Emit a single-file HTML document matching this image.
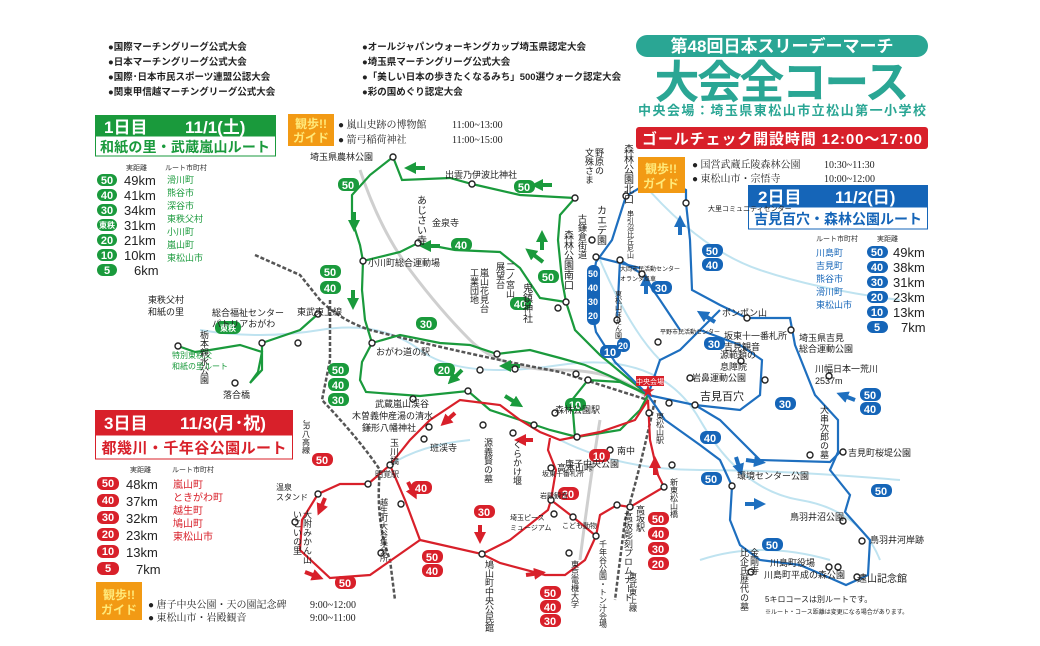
<!DOCTYPE html>
<html><head><meta charset="utf-8"><style>
body{margin:0;background:#fff}
svg{display:block;font-family:"Liberation Sans","Noto Sans CJK JP",sans-serif}
.k{font-size:9px;fill:#222}
.s{font-size:7px;fill:#333}
.g{fill:#1a9a3c}.b{fill:#1565b8}.r{fill:#d8202a}
</style></head><body>
<svg width="1040" height="646" viewBox="0 0 1040 646" xmlns="http://www.w3.org/2000/svg">
<defs>
<marker id="ag" viewBox="0 0 10 10" refX="5" refY="5" markerWidth="3" markerHeight="3" orient="auto"><path d="M0 0L10 5L0 10z" fill="#1a9a3c"/></marker>
<marker id="ab" viewBox="0 0 10 10" refX="5" refY="5" markerWidth="3" markerHeight="3" orient="auto"><path d="M0 0L10 5L0 10z" fill="#1e6fbf"/></marker>
<marker id="ar" viewBox="0 0 10 10" refX="5" refY="5" markerWidth="3" markerHeight="3" orient="auto"><path d="M0 0L10 5L0 10z" fill="#d8202a"/></marker>
</defs>
<rect width="1040" height="646" fill="#fff"/>
<!-- rivers -->
<g fill="none" stroke="#bfe3f0" stroke-width="2">
<path d="M200 330 Q260 340 320 330 T420 350 T560 365 T700 420 T800 500 T880 560"/>
<path d="M640 180 Q700 250 760 270 T900 300"/>
<path d="M600 260 Q630 330 660 360"/>
<path d="M560 440 Q620 470 700 470 T900 480"/>
<path d="M390 465 Q420 445 470 440"/>
<path d="M700 560 Q760 540 830 560"/>
</g>
<g fill="none" stroke="#cfcfcf" stroke-width="3">
<path d="M360 170 Q380 230 410 270 T470 340 T560 370 T650 400"/>
<path d="M600 420 Q590 480 580 560"/>
</g>
<g fill="none" stroke="#555" stroke-width="2.5" stroke-dasharray="4 2">
<path d="M255 255 L300 275 L320 300 Q340 320 370 330 Q470 355 560 372 L648 400"/>
<path d="M330 300 L330 360 L322 400 Q360 440 380 470 Q375 520 390 560 L395 600"/>
<path d="M655 400 Q640 470 625 520 L615 600"/>
</g>
<g fill="none" stroke="#1a9a3c" stroke-width="2.2">
<path d="M393 157 L402 180 L450 178 L472 184 L520 195 L575 198 L560 215 L558 240 L562 280 L566 302 L540 298 L520 268 L500 252 L455 250 L418 243 L400 252 L363 261 L362 290 L365 320 L372 343"/>
<path d="M393 157 L370 175 L352 195 L352 220 L360 245 L363 261"/>
<path d="M566 302 L575 330 L600 355 L648 395"/>
<path d="M372 343 L400 335 L440 343 L470 345 L497 354 L530 350 L560 358 L585 365 L610 376 L648 395"/>
<path d="M372 343 L362 362 L360 380 L366 392 L420 396 L468 391 L490 410 L520 420 L550 430 L577 437 L620 430 L640 410 L648 395"/>
<path d="M648 395 L620 382 L588 380 L572 400 L575 437"/>
<path d="M178 346 L195 352 L210 350 L240 345 L262 352 L258 372 L250 383 L262 370 L262 343 L300 330 L318 314"/>
</g>
<g fill="none" stroke="#1e6fbf" stroke-width="2.2">
<path d="M648 395 L615 362 L596 332 L590 300 L596 262 L612 240 L626 196 L660 176 L686 190 L686 203 L690 240 L692 290 L720 305 L747 318 L790 318 L795 345 L815 395 L838 420 L838 452 L830 470 L850 495 L845 512 L870 540 L868 575 L846 585 L830 578 L800 565 L760 560 L740 545 L730 520 L732 486 L720 460 L700 445 L665 420 L648 395"/>
<path d="M648 395 L660 360 L680 350 L700 330 L720 310"/>
<path d="M648 395 L695 405 L720 420 L760 460 L830 462 L840 452"/>
<path d="M695 405 L740 410 L760 395 L762 360 L740 345 L700 330"/>
<path d="M617 320 L620 260 L642 274 L660 300 L680 330"/>
<path d="M596 257 L640 268"/>
</g>
<g fill="none" stroke="#d8202a" stroke-width="2.2">
<path d="M648 400 L650 440 L658 475 L664 487 L630 507 L617 505 L600 515 L596 536 L585 560 L565 575 L545 575 L500 563 L482 554 L420 540 L405 500 L390 465"/>
<path d="M648 400 L635 420 L600 432 L560 440 L540 432 L520 420 L500 405 L460 400 L430 420 L410 440 L390 465 L368 484 L340 484 L318 494 L302 520 L300 550 L330 578 L370 575 L420 540"/>
<path d="M482 554 L510 540 L548 510 L551 500 L556 470 L548 450 L550 438"/>
<path d="M551 500 L573 517 L596 536"/>
</g>
<!-- direction arrows -->
<g stroke-width="4" fill="none">
<path d="M425 168 L410 168" stroke="#1a9a3c" marker-end="url(#ag)"/>
<path d="M552 185 L537 185" stroke="#1a9a3c" marker-end="url(#ag)"/>
<path d="M354 212 L354 226" stroke="#1a9a3c" marker-end="url(#ag)"/>
<path d="M440 246 L425 246" stroke="#1a9a3c" marker-end="url(#ag)"/>
<path d="M353 290 L353 304" stroke="#1a9a3c" marker-end="url(#ag)"/>
<path d="M543 262 L530 252" stroke="#1a9a3c" marker-end="url(#ag)"/>
<path d="M542 250 L542 236" stroke="#1a9a3c" marker-end="url(#ag)"/>
<path d="M520 366 L505 366" stroke="#1a9a3c" marker-end="url(#ag)"/>
<path d="M462 370 L452 380" stroke="#1a9a3c" marker-end="url(#ag)"/>
<path d="M505 396 L518 404" stroke="#1a9a3c" marker-end="url(#ag)"/>
<path d="M680 235 L680 221" stroke="#1e6fbf" marker-end="url(#ab)"/>
<path d="M646 294 L646 280" stroke="#1e6fbf" marker-end="url(#ab)"/>
<path d="M715 322 L702 314" stroke="#1e6fbf" marker-end="url(#ab)"/>
<path d="M855 400 L842 395" stroke="#1e6fbf" marker-end="url(#ab)"/>
<path d="M746 460 L760 462" stroke="#1e6fbf" marker-end="url(#ab)"/>
<path d="M745 504 L760 504" stroke="#1e6fbf" marker-end="url(#ab)"/>
<path d="M736 457 L740 470" stroke="#1e6fbf" marker-end="url(#ab)"/>
<path d="M455 413 L445 422" stroke="#d8202a" marker-end="url(#ar)"/>
<path d="M533 440 L520 440" stroke="#d8202a" marker-end="url(#ar)"/>
<path d="M408 482 L414 494" stroke="#d8202a" marker-end="url(#ar)"/>
<path d="M480 525 L480 538" stroke="#d8202a" marker-end="url(#ar)"/>
<path d="M305 572 L318 577" stroke="#d8202a" marker-end="url(#ar)"/>
<path d="M325 498 L320 510" stroke="#d8202a" marker-end="url(#ar)"/>
<path d="M655 475 L655 462" stroke="#d8202a" marker-end="url(#ar)"/>
<path d="M526 575 L540 573" stroke="#d8202a" marker-end="url(#ar)"/>
</g>
<g fill="#fff" stroke="#222" stroke-width="1.4">
<circle cx="393" cy="157" r="3"/><circle cx="472" cy="184" r="3"/><circle cx="575" cy="198" r="3"/><circle cx="418" cy="243" r="3"/><circle cx="363" cy="261" r="3"/><circle cx="372" cy="343" r="3"/><circle cx="318" cy="314" r="3"/><circle cx="262" cy="343" r="3"/><circle cx="178" cy="346" r="3"/><circle cx="235" cy="383" r="3"/><circle cx="298" cy="343" r="3"/><circle cx="468" cy="391" r="3"/><circle cx="497" cy="354" r="3"/><circle cx="515" cy="369" r="3"/><circle cx="480" cy="370" r="3"/><circle cx="413" cy="399" r="3"/><circle cx="566" cy="302" r="3"/><circle cx="558" cy="308" r="3"/><circle cx="576" cy="374" r="3"/><circle cx="588" cy="380" r="3"/><circle cx="555" cy="413" r="3"/><circle cx="534" cy="425" r="3"/><circle cx="577" cy="437" r="3"/>
<circle cx="626" cy="196" r="3"/><circle cx="592" cy="240" r="3"/><circle cx="596" cy="257" r="3"/><circle cx="620" cy="260" r="3"/><circle cx="642" cy="274" r="3"/><circle cx="617" cy="320" r="3"/><circle cx="686" cy="203" r="3"/><circle cx="747" cy="318" r="3"/><circle cx="658" cy="342" r="3"/><circle cx="791" cy="330" r="3"/><circle cx="741" cy="361" r="3"/><circle cx="765" cy="380" r="3"/><circle cx="690" cy="378" r="3"/><circle cx="695" cy="405" r="3"/><circle cx="669" cy="403" r="3"/><circle cx="829" cy="376" r="3"/><circle cx="810" cy="455" r="3"/><circle cx="843" cy="452" r="3"/><circle cx="732" cy="486" r="3"/><circle cx="843" cy="521" r="3"/><circle cx="862" cy="541" r="3"/><circle cx="829" cy="567" r="3"/><circle cx="838" cy="567" r="3"/><circle cx="857" cy="577" r="3"/><circle cx="751" cy="572" r="3"/><circle cx="672" cy="465" r="3"/>
<circle cx="649" cy="413" r="3"/><circle cx="390" cy="465" r="3"/><circle cx="368" cy="484" r="3"/><circle cx="318" cy="494" r="3"/><circle cx="295" cy="522" r="3"/><circle cx="381" cy="553" r="3"/><circle cx="401" cy="504" r="3"/><circle cx="482" cy="554" r="3"/><circle cx="429" cy="427" r="3"/><circle cx="424" cy="439" r="3"/><circle cx="483" cy="425" r="3"/><circle cx="513" cy="433" r="3"/><circle cx="610" cy="450" r="3"/><circle cx="551" cy="468" r="3"/><circle cx="551" cy="500" r="3"/><circle cx="554" cy="514" r="3"/><circle cx="573" cy="517" r="3"/><circle cx="596" cy="536" r="3"/><circle cx="569" cy="553" r="3"/><circle cx="617" cy="505" r="3"/><circle cx="630" cy="507" r="3"/><circle cx="664" cy="487" r="3"/>
</g>
<text x="648" y="396" font-size="14" fill="#d8202a" text-anchor="middle">★</text>
<rect x="636" y="376" width="28" height="10" fill="#d8202a"/><text x="650" y="384" font-size="7" fill="#fff" text-anchor="middle">中央会場</text>
<g font-size="9.5" font-weight="bold" fill="#222">
<text x="108" y="50">●国際マーチングリーグ公式大会</text>
<text x="108" y="65">●日本マーチングリーグ公式大会</text>
<text x="108" y="80">●国際･日本市民スポーツ連盟公認大会</text>
<text x="108" y="95">●関東甲信越マーチングリーグ公式大会</text>
<text x="362" y="50">●オールジャパンウォーキングカップ埼玉県認定大会</text>
<text x="362" y="65">●埼玉県マーチングリーグ公式大会</text>
<text x="362" y="80">●「美しい日本の歩きたくなるみち」500選ウォーク認定大会</text>
<text x="362" y="95">●彩の国めぐり認定大会</text>
</g>
<rect x="636" y="35" width="292" height="22" rx="11" fill="#2aa694"/>
<text x="782" y="52" font-size="17" font-weight="bold" fill="#fff" text-anchor="middle">第48回日本スリーデーマーチ</text>
<text x="782" y="98" font-size="45" font-weight="bold" fill="#2aa694" text-anchor="middle" textLength="255">大会全コース</text>
<text x="782" y="115" font-size="13" font-weight="bold" fill="#2aa694" text-anchor="middle" textLength="288">中央会場：埼玉県東松山市立松山第一小学校</text>
<rect x="636" y="127" width="292" height="22" rx="3" fill="#d8202a"/>
<text x="782" y="144" font-size="15" font-weight="bold" fill="#fff" text-anchor="middle" textLength="280">ゴールチェック開設時間 12:00～17:00</text>
<g font-weight="bold" fill="#fff" text-anchor="middle">
<rect x="638" y="157" width="47" height="36" fill="#f29a14"/><text x="661" y="173" font-size="12" fill="#ffe97a">観歩!!</text><text x="661" y="188" font-size="12" fill="#ffe97a">ガイド</text>
<rect x="288" y="114" width="46" height="32" fill="#f29a14"/><text x="311" y="128" font-size="12" fill="#ffe97a">観歩!!</text><text x="311" y="142" font-size="12" fill="#ffe97a">ガイド</text>
<rect x="96" y="582" width="46" height="38" fill="#f29a14"/><text x="119" y="599" font-size="12" fill="#ffe97a">観歩!!</text><text x="119" y="614" font-size="12" fill="#ffe97a">ガイド</text>
</g>
<g font-size="10" fill="#222" font-family="Liberation Serif,Noto Serif CJK SC,serif">
<text x="692" y="168">●  国営武蔵丘陵森林公園</text><text x="824" y="168">10:30~11:30</text>
<text x="692" y="182">●  東松山市・宗悟寺</text><text x="824" y="182">10:00~12:00</text>
<text x="338" y="128">●  嵐山史跡の博物館</text><text x="452" y="128">11:00~13:00</text>
<text x="338" y="143">●  箭弓稲荷神社</text><text x="452" y="143">11:00~15:00</text>
<text x="148" y="608">●  唐子中央公園・天の園記念碑</text><text x="310" y="608">9:00~12:00</text>
<text x="148" y="621">●  東松山市・岩殿観音</text><text x="310" y="621">9:00~11:00</text>
</g>
<rect x="95" y="115" width="181" height="21" fill="#1a9a3c"/>
<rect x="95.5" y="136" width="180" height="20" fill="#fff" stroke="#1a9a3c"/>
<text x="104" y="133" font-size="17" font-weight="bold" fill="#fff">1日目</text><text x="185" y="133" font-size="17" font-weight="bold" fill="#fff">11/1(土)</text>
<text x="185" y="152" font-size="14" font-weight="bold" class="g" text-anchor="middle" textLength="170">和紙の里・武蔵嵐山ルート</text>
<rect x="748" y="185" width="180" height="22" fill="#1565b8"/>
<rect x="748.5" y="207" width="179" height="22" fill="#fff" stroke="#1565b8"/>
<text x="758" y="203" font-size="17" font-weight="bold" fill="#fff">2日目</text><text x="835" y="203" font-size="17" font-weight="bold" fill="#fff">11/2(日)</text>
<text x="838" y="224" font-size="14" font-weight="bold" class="b" text-anchor="middle" textLength="168">吉見百穴・森林公園ルート</text>
<rect x="95" y="410" width="198" height="25" fill="#d8202a"/>
<rect x="95.5" y="435" width="197" height="24" fill="#fff" stroke="#d8202a"/>
<text x="104" y="429" font-size="17" font-weight="bold" fill="#fff">3日目</text><text x="180" y="429" font-size="17" font-weight="bold" fill="#fff">11/3(月･祝)</text>
<text x="194" y="453" font-size="15" font-weight="bold" class="r" text-anchor="middle" textLength="185">都幾川・千年谷公園ルート</text>
<text x="126" y="170" class="s">実距離</text><text x="165" y="170" class="s">ルート市町村</text>
<g font-size="11" font-weight="bold" fill="#fff" text-anchor="middle">
<rect x="97" y="174" width="20" height="12" rx="6" fill="#1a9a3c"/><text x="107" y="184">50</text>
<rect x="97" y="189" width="20" height="12" rx="6" fill="#1a9a3c"/><text x="107" y="199">40</text>
<rect x="97" y="204" width="20" height="12" rx="6" fill="#1a9a3c"/><text x="107" y="214">30</text>
<rect x="97" y="219" width="20" height="12" rx="6" fill="#1a9a3c"/><text x="107" y="228" font-size="8">東秩</text>
<rect x="97" y="234" width="20" height="12" rx="6" fill="#1a9a3c"/><text x="107" y="244">20</text>
<rect x="97" y="249" width="20" height="12" rx="6" fill="#1a9a3c"/><text x="107" y="259">10</text>
<rect x="97" y="264" width="20" height="12" rx="6" fill="#1a9a3c"/><text x="107" y="274">5</text>
</g>
<g font-size="13" fill="#222"><text x="124" y="185">49km</text><text x="124" y="200">41km</text><text x="124" y="215">34km</text><text x="124" y="230">31km</text><text x="124" y="245">21km</text><text x="124" y="260">10km</text><text x="134" y="275">6km</text></g>
<g font-size="9" class="g"><text x="167" y="183">滑川町</text><text x="167" y="196">熊谷市</text><text x="167" y="209">深谷市</text><text x="167" y="222">東秩父村</text><text x="167" y="235">小川町</text><text x="167" y="248">嵐山町</text><text x="167" y="261">東松山市</text></g>
<text x="816" y="241" class="s">ルート市町村</text><text x="877" y="241" class="s">実距離</text>
<g font-size="11" font-weight="bold" fill="#fff" text-anchor="middle">
<rect x="867" y="246" width="21" height="12" rx="6" fill="#1565b8"/><text x="877" y="256">50</text>
<rect x="867" y="261" width="21" height="12" rx="6" fill="#1565b8"/><text x="877" y="271">40</text>
<rect x="867" y="276" width="21" height="12" rx="6" fill="#1565b8"/><text x="877" y="286">30</text>
<rect x="867" y="291" width="21" height="12" rx="6" fill="#1565b8"/><text x="877" y="301">20</text>
<rect x="867" y="306" width="21" height="12" rx="6" fill="#1565b8"/><text x="877" y="316">10</text>
<rect x="867" y="321" width="21" height="12" rx="6" fill="#1565b8"/><text x="877" y="331">5</text>
</g>
<g font-size="13" fill="#222"><text x="893" y="257">49km</text><text x="893" y="272">38km</text><text x="893" y="287">31km</text><text x="893" y="302">23km</text><text x="893" y="317">13km</text><text x="901" y="332">7km</text></g>
<g font-size="9" class="b"><text x="816" y="256">川島町</text><text x="816" y="269">吉見町</text><text x="816" y="282">熊谷市</text><text x="816" y="295">滑川町</text><text x="816" y="308">東松山市</text></g>
<text x="130" y="472" class="s">実距離</text><text x="172" y="472" class="s">ルート市町村</text>
<g font-size="11" font-weight="bold" fill="#fff" text-anchor="middle">
<rect x="97" y="477" width="22" height="13" rx="6" fill="#d8202a"/><text x="108" y="487">50</text>
<rect x="97" y="494" width="22" height="13" rx="6" fill="#d8202a"/><text x="108" y="504">40</text>
<rect x="97" y="511" width="22" height="13" rx="6" fill="#d8202a"/><text x="108" y="521">30</text>
<rect x="97" y="528" width="22" height="13" rx="6" fill="#d8202a"/><text x="108" y="538">20</text>
<rect x="97" y="545" width="22" height="13" rx="6" fill="#d8202a"/><text x="108" y="555">10</text>
<rect x="97" y="562" width="22" height="13" rx="6" fill="#d8202a"/><text x="108" y="572">5</text>
</g>
<g font-size="13" fill="#222"><text x="126" y="489">48km</text><text x="126" y="506">37km</text><text x="126" y="523">32km</text><text x="126" y="540">23km</text><text x="126" y="557">13km</text><text x="136" y="574">7km</text></g>
<g font-size="10" class="r"><text x="173" y="488">嵐山町</text><text x="173" y="501">ときがわ町</text><text x="173" y="514">越生町</text><text x="173" y="527">鳩山町</text><text x="173" y="540">東松山市</text></g>
<g font-size="11" font-weight="bold" fill="#fff" text-anchor="middle">
<g fill="#1a9a3c"><rect x="338" y="178" width="21" height="13" rx="6"/><rect x="514" y="180" width="21" height="13" rx="6"/><rect x="451" y="238" width="21" height="13" rx="6"/><rect x="320" y="265" width="21" height="13" rx="6"/><rect x="320" y="281" width="21" height="13" rx="6"/><rect x="538" y="270" width="21" height="13" rx="6"/><rect x="510" y="297" width="21" height="13" rx="6"/><rect x="416" y="317" width="21" height="13" rx="6"/><rect x="434" y="363" width="21" height="13" rx="6"/><rect x="328" y="363" width="21" height="13" rx="6"/><rect x="328" y="378" width="21" height="13" rx="6"/><rect x="328" y="393" width="21" height="13" rx="6"/><rect x="565" y="398" width="21" height="13" rx="6"/><rect x="215" y="321" width="26" height="13" rx="6"/></g>
<g fill="#fff"><text x="348" y="189">50</text><text x="524" y="191">50</text><text x="461" y="249">40</text><text x="330" y="276">50</text><text x="330" y="292">40</text><text x="548" y="281">50</text><text x="520" y="308">40</text><text x="426" y="328">30</text><text x="444" y="374">20</text><text x="338" y="374">50</text><text x="338" y="389">40</text><text x="338" y="404">30</text><text x="575" y="409">10</text><text x="228" y="331" font-size="8">東秩</text></g>
<g fill="#1565b8"><rect x="702" y="244" width="21" height="13" rx="6"/><rect x="702" y="258" width="21" height="13" rx="6"/><rect x="651" y="281" width="21" height="13" rx="6"/><rect x="587" y="265" width="13" height="60" rx="6"/><rect x="617" y="338" width="13" height="14" rx="6"/><rect x="600" y="345" width="21" height="13" rx="6"/><rect x="704" y="337" width="21" height="13" rx="6"/><rect x="775" y="397" width="21" height="13" rx="6"/><rect x="860" y="388" width="21" height="13" rx="6"/><rect x="860" y="402" width="21" height="13" rx="6"/><rect x="700" y="431" width="21" height="13" rx="6"/><rect x="701" y="472" width="21" height="13" rx="6"/><rect x="871" y="484" width="21" height="13" rx="6"/><rect x="762" y="538" width="21" height="13" rx="6"/></g>
<g fill="#fff"><text x="712" y="255">50</text><text x="712" y="269">40</text><text x="661" y="292">30</text><text x="593" y="277" font-size="9">50</text><text x="593" y="291" font-size="9">40</text><text x="593" y="305" font-size="9">30</text><text x="593" y="319" font-size="9">20</text><text x="623" y="349" font-size="9">20</text><text x="610" y="356">10</text><text x="714" y="348">30</text><text x="785" y="408">30</text><text x="870" y="399">50</text><text x="870" y="413">40</text><text x="710" y="442">40</text><text x="711" y="483">50</text><text x="881" y="495">50</text><text x="772" y="549">50</text></g>
<g fill="#d8202a"><rect x="312" y="453" width="21" height="13" rx="6"/><rect x="411" y="481" width="21" height="13" rx="6"/><rect x="474" y="505" width="21" height="13" rx="6"/><rect x="558" y="487" width="21" height="13" rx="6"/><rect x="589" y="449" width="21" height="13" rx="6"/><rect x="422" y="550" width="21" height="13" rx="6"/><rect x="422" y="564" width="21" height="13" rx="6"/><rect x="335" y="576" width="21" height="13" rx="6"/><rect x="540" y="586" width="21" height="13" rx="6"/><rect x="540" y="600" width="21" height="13" rx="6"/><rect x="540" y="614" width="21" height="13" rx="6"/><rect x="648" y="512" width="21" height="13" rx="6"/><rect x="648" y="527" width="21" height="13" rx="6"/><rect x="648" y="542" width="21" height="13" rx="6"/><rect x="648" y="557" width="21" height="13" rx="6"/></g>
<g fill="#fff"><text x="322" y="464">50</text><text x="421" y="492">40</text><text x="484" y="516">30</text><text x="568" y="498">20</text><text x="599" y="460">10</text><text x="432" y="561">50</text><text x="432" y="575">40</text><text x="345" y="587">50</text><text x="550" y="597">50</text><text x="550" y="611">40</text><text x="550" y="625">30</text><text x="658" y="523">50</text><text x="658" y="538">40</text><text x="658" y="553">30</text><text x="658" y="568">20</text></g>
</g>
<g class="k">
<text x="310" y="160">埼玉県農林公園</text><text x="445" y="178">出雲乃伊波比神社</text>
<text x="432" y="226">金泉寺</text><text x="368" y="266">小川町総合運動場</text>
<text x="376" y="355">おがわ道の駅</text><text x="297" y="315">東武東上線</text>
<text x="148" y="303">東秩父村</text><text x="148" y="315">和紙の里</text>
<text x="212" y="316">総合福祉センター</text><text x="212" y="327">パトリアおがわ</text>
<text x="172" y="358" class="g" font-size="8">特別東秩父</text><text x="172" y="369" class="g" font-size="8">和紙の里ルート</text>
<text x="223" y="398">落合橋</text>
<text x="375" y="407">武蔵嵐山渓谷</text><text x="352" y="419">木曽義仲産湯の清水</text><text x="362" y="431">鎌形八幡神社</text>
<text x="430" y="451">班渓寺</text><text x="375" y="477" font-size="8">明覚駅</text>
<text x="276" y="490" font-size="8">温泉</text><text x="276" y="500" font-size="8">スタンド</text>
<text x="555" y="413">森林公園駅</text><text x="565" y="467">唐子中央公園</text><text x="617" y="454">南中</text>
<text x="557" y="471">高本山峠</text><text x="542" y="476" font-size="7">坂東十番札所</text><text x="540" y="498" font-size="7">岩殿観音</text>
<text x="510" y="520" font-size="7">埼玉ピース</text><text x="510" y="530" font-size="7">ミュージアム</text>
<text x="562" y="528" font-size="7">こども動物</text>
<text x="708" y="211" font-size="7">大里コミュニティセンター</text><text x="722" y="316">ポンポン山</text>
<text x="620" y="271" font-size="6">大岡市民活動センター</text><text x="620" y="281" font-size="6">オランダ風車</text>
<text x="660" y="334" font-size="6">平野市民活動センター</text>
<text x="724" y="339">坂東十一番札所</text><text x="724" y="350">吉見観音</text>
<text x="720" y="358">源範頼の</text><text x="720" y="370">息障院</text>
<text x="692" y="381">岩鼻運動公園</text><text x="700" y="400" font-size="11">吉見百穴</text>
<text x="799" y="341">埼玉県吉見</text><text x="799" y="352">総合運動公園</text>
<text x="815" y="372">川幅日本一荒川</text><text x="815" y="384">2537m</text>
<text x="848" y="456">吉見町桜堤公園</text><text x="737" y="479">環境センター公園</text>
<text x="790" y="520">鳥羽井沼公園</text><text x="870" y="543">鳥羽井河岸跡</text>
<text x="770" y="566">川島町役場</text><text x="764" y="578">川島町平成の森公園</text>
<text x="857" y="582" font-size="10">遠山記念館</text>
<text x="765" y="602" font-size="8">5キロコースは別ルートです。</text>
<text x="765" y="614" font-size="6">※ルート・コース距離は変更になる場合があります。</text>
</g>
<g class="k" writing-mode="tb" glyph-orientation-vertical="0">
<text x="599" y="148" font-size="9">野原の</text><text x="589" y="148" font-size="9">文殊さま</text>
<text x="627" y="144" font-size="10">森林公園北口</text>
<text x="600" y="205" font-size="10">カエデ園</text>
<text x="582" y="214" font-size="9">古鎌倉街道</text>
<text x="567" y="230" font-size="10">森林公園南口</text>
<text x="420" y="195" font-size="10">あじさい寺</text>
<text x="510" y="262" font-size="9">二ノ宮山</text><text x="500" y="262" font-size="9">展望台</text>
<text x="484" y="268" font-size="9">嵐山花見台</text><text x="474" y="268" font-size="9">工業団地</text>
<text x="526" y="283" font-size="10">鬼鎮神社</text>
<text x="204" y="330" font-size="9">栃本親水公園</text>
<text x="306" y="420" font-size="8">JR八高線</text>
<text x="394" y="438" font-size="9">玉川橋</text>
<text x="307" y="510" font-size="9">大附みかん山</text><text x="297" y="510" font-size="9">いこいの里</text>
<text x="384" y="498" font-size="8">越生町大谷集会所</text>
<text x="488" y="438" font-size="9">源義賢の墓</text>
<text x="517" y="440" font-size="9">くらかけ堰</text>
<text x="489" y="560" font-size="9">鳩山町中央公民館</text>
<text x="575" y="560" font-size="8">東京電機大学</text>
<text x="603" y="540" font-size="8">千年谷公園・トン汁会場</text>
<text x="628" y="512" font-size="9">高坂彫刻プロムナード</text>
<text x="640" y="505" font-size="9">高坂駅</text>
<text x="633" y="572" font-size="8">東武東上線</text>
<text x="674" y="478" font-size="8">新東松山橋</text>
<text x="660" y="412" font-size="8">東松山駅</text>
<text x="754" y="548" font-size="9">金剛寺</text><text x="744" y="548" font-size="9">比企氏歴代の墓</text>
<text x="824" y="405" font-size="9">大串次郎の墓</text>
<text x="630" y="210" font-size="7">串引沼比丘尼山</text>
<text x="618" y="290" font-size="7">東松山ぼたん園</text>
</g>
</svg>
</body></html>
